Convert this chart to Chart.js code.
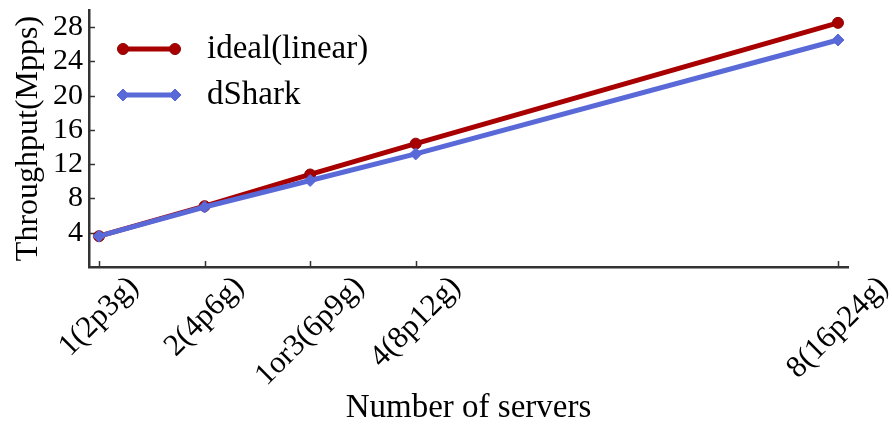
<!DOCTYPE html>
<html>
<head>
<meta charset="utf-8">
<script src="https://cdn.jsdelivr.net/npm/chart.js@4.4.1/dist/chart.umd.min.js"></script>
<style>
  html, body { margin: 0; padding: 0; background: #ffffff; }
  #wrap { width: 892px; height: 428px; }
</style>
</head>
<body>
<div id="wrap"><canvas id="c" width="892" height="428"></canvas></div>
<script>
// ---- data ----
const xValues = [1, 2, 3, 4, 8];
const xLabels = ['1(2p3g)', '2(4p6g)', '1or3(6p9g)', '4(8p12g)', '8(16p24g)'];
const idealValues = [3.6, 7.1, 10.8, 14.4, 28.5];
const dsharkValues = [3.6, 7.0, 10.1, 13.2, 26.5];
const yTicks = [4, 8, 12, 16, 20, 24, 28];
const seriesNames = ['ideal(linear)', 'dShark'];
const xTitle = 'Number of servers';
const yTitle = 'Throughput(Mpps)';

const RED = '#a80000';
const BLUE = '#5a69d8';
const AXIS = '#333333';
const FONT = "'Liberation Serif', 'Times New Roman', serif";

function pts(vals) { return xValues.map((x, i) => ({ x: x, y: vals[i] })); }

// inward tick marks + rotated x labels + legend
const decor = {
  id: 'decor',
  beforeDatasetsDraw(chart) {
    const ctx = chart.ctx;
    const xs = chart.scales.x, ys = chart.scales.y;
    ctx.save();
    ctx.strokeStyle = AXIS;
    ctx.lineWidth = 1.5;
    xValues.forEach(v => {
      const px = Math.round(xs.getPixelForValue(v)) + 0.5;
      ctx.beginPath();
      ctx.moveTo(px, ys.bottom);
      ctx.lineTo(px, ys.bottom - 6);
      ctx.stroke();
    });
    yTicks.forEach(v => {
      const py = Math.round(ys.getPixelForValue(v)) + 0.5;
      ctx.beginPath();
      ctx.moveTo(xs.left, py);
      ctx.lineTo(xs.left + 6, py);
      ctx.stroke();
    });
    ctx.restore();
  },
  afterDraw(chart) {
    const ctx = chart.ctx;
    const xs = chart.scales.x;
    const area = chart.chartArea;
    ctx.save();
    // rotated x tick labels, centred under their ticks
    ctx.font = '31px ' + FONT;
    ctx.fillStyle = '#000';
    ctx.textAlign = 'center';
    ctx.textBaseline = 'middle';
    xValues.forEach((v, i) => {
      const px = xs.getPixelForValue(v);
      const w = ctx.measureText(xLabels[i]).width;
      const ext = (w + 26) * Math.SQRT1_2;
      const cy = area.bottom + 6 + ext / 2;
      ctx.save();
      ctx.translate(px, cy);
      ctx.rotate(-Math.PI / 4);
      ctx.fillText(xLabels[i], 0, 0);
      ctx.restore();
    });
    // legend
    const rows = [
      { ds: chart.data.datasets[0], y: area.top + 39 },
      { ds: chart.data.datasets[1], y: area.top + 85 }
    ];
    const x0 = area.left + 34, x1 = area.left + 86;
    rows.forEach(r => {
      const ds = r.ds;
      ctx.strokeStyle = ds.borderColor;
      ctx.lineWidth = ds.borderWidth;
      ctx.beginPath();
      ctx.moveTo(x0, r.y);
      ctx.lineTo(x1, r.y);
      ctx.stroke();
      const opt = {
        pointStyle: ds.pointStyle,
        radius: ds.pointRadius,
        rotation: 0,
        borderWidth: ds.pointBorderWidth
      };
      ctx.fillStyle = ds.pointBackgroundColor;
      ctx.strokeStyle = ds.pointBorderColor;
      ctx.lineWidth = ds.pointBorderWidth;
      Chart.helpers.drawPoint(ctx, opt, x0, r.y);
      ctx.fillStyle = ds.pointBackgroundColor;
      ctx.strokeStyle = ds.pointBorderColor;
      Chart.helpers.drawPoint(ctx, opt, x1, r.y);
      ctx.fillStyle = '#000';
      ctx.font = '33px ' + FONT;
      ctx.textAlign = 'left';
      ctx.textBaseline = 'middle';
      ctx.fillText(ds.label, area.left + 118, r.y);
    });
    ctx.restore();
  }
};

new Chart(document.getElementById('c'), {
  type: 'line',
  data: {
    datasets: [
      {
        label: seriesNames[0],
        data: pts(idealValues),
        borderColor: RED,
        backgroundColor: RED,
        borderWidth: 5,
        pointStyle: 'circle',
        pointRadius: 5.5,
        pointBackgroundColor: RED,
        pointBorderColor: '#8c0000',
        pointBorderWidth: 1,
        tension: 0,
        order: 1
      },
      {
        label: seriesNames[1],
        data: pts(dsharkValues),
        borderColor: BLUE,
        backgroundColor: BLUE,
        borderWidth: 5,
        pointStyle: 'rectRot',
        pointRadius: 6,
        pointBackgroundColor: BLUE,
        pointBorderColor: BLUE,
        pointBorderWidth: 1,
        tension: 0,
        order: 0
      }
    ]
  },
  options: {
    responsive: false,
    animation: false,
    devicePixelRatio: 1,
    layout: { padding: { top: 10, right: 44, left: 0, bottom: 0 } },
    plugins: { legend: { display: false }, tooltip: { enabled: false } },
    scales: {
      x: {
        type: 'linear',
        min: 0.905,
        max: 8.095,
        afterBuildTicks: s => { s.ticks = xValues.map(v => ({ value: v })); },
        afterFit: s => { s.height = 161; s.paddingLeft = 0; s.paddingRight = 0; },
        ticks: { display: false },
        grid: { display: true, drawOnChartArea: false, drawTicks: false },
        border: { display: true, color: AXIS, width: 2.5 },
        title: {
          display: true,
          text: xTitle,
          color: '#000',
          font: { family: FONT, size: 33 },
          padding: { top: 0, bottom: 0 }
        }
      },
      y: {
        type: 'linear',
        min: 0,
        max: 30,
        afterBuildTicks: s => { s.ticks = yTicks.map(v => ({ value: v })); },
        afterFit: s => { s.width = 89; s.paddingTop = 0; s.paddingBottom = 0; },
        ticks: {
          color: '#000',
          font: { family: FONT, size: 30 },
          padding: 6
        },
        grid: { display: true, drawOnChartArea: false, drawTicks: false },
        border: { display: true, color: AXIS, width: 2.5 },
        title: {
          display: true,
          text: yTitle,
          color: '#000',
          font: { family: FONT, size: 32 },
          padding: { top: 9, bottom: 0 }
        }
      }
    }
  },
  plugins: [decor]
});
</script>
</body>
</html>
